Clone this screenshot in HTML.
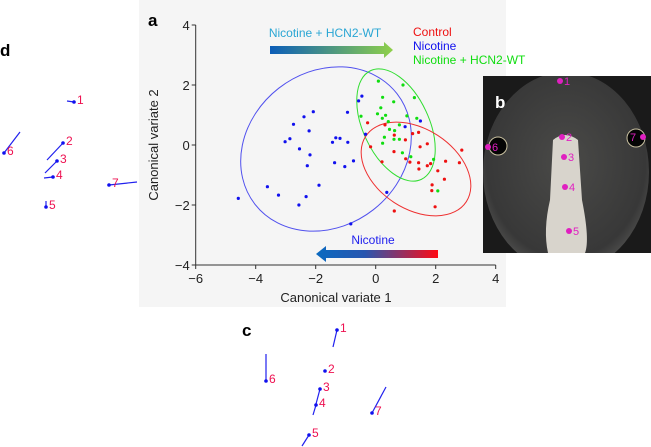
<!DOCTYPE html>
<html><head><meta charset="utf-8"><style>
html,body{margin:0;padding:0;background:#fff;}
svg{display:block;font-family:"Liberation Sans",Arial,sans-serif;}
</style></head><body>
<svg id="fig" width="651" height="447" viewBox="0 0 651 447">
<defs>
<linearGradient id="gTop" x1="0" x2="1"><stop offset="0" stop-color="#0b5db8"/><stop offset="1" stop-color="#8fd04a"/></linearGradient>
<linearGradient id="gBot" x1="0" x2="1"><stop offset="0" stop-color="#0b6ac0"/><stop offset="0.4" stop-color="#2856b0"/><stop offset="1" stop-color="#ff0a14"/></linearGradient>
<radialGradient id="head" cx="0.5" cy="0.45" r="0.6"><stop offset="0" stop-color="#4a4a48"/><stop offset="0.8" stop-color="#383838"/><stop offset="1" stop-color="#5a5a58"/></radialGradient>
<clipPath id="bclip"><rect x="483" y="76" width="168" height="177"/></clipPath>
</defs>
<rect x="139" y="0" width="367" height="307" fill="#f5f5f5"/>
<text x="148" y="26" font-size="17" font-weight="bold">a</text>
<g id="axes"></g>
<g id="ellipses">
<ellipse cx="326" cy="149" rx="90" ry="77" transform="rotate(-38 326 149)" fill="none" stroke="#5050ee" stroke-width="1"/>
<ellipse cx="396" cy="125" rx="33" ry="60" transform="rotate(-25 396 125)" fill="none" stroke="#30dd30" stroke-width="1"/>
<ellipse cx="416" cy="169" rx="60" ry="40" transform="rotate(33 416 169)" fill="none" stroke="#ee3030" stroke-width="1"/>
</g>
<g id="pts"></g>
<text x="325" y="37" font-size="12" fill="#2aa6d4" text-anchor="middle">Nicotine + HCN2-WT</text>
<path d="M270,46 H384 V42 L393,50 L384,58 V54 H270 Z" fill="url(#gTop)"/>
<text x="413" y="36" font-size="12" fill="#ee1010">Control</text>
<text x="413" y="50" font-size="12" fill="#1010ee">Nicotine</text>
<text x="413" y="64" font-size="12" fill="#10dd10">Nicotine + HCN2-WT</text>
<text x="373" y="244" font-size="12" fill="#2020ee" text-anchor="middle">Nicotine</text>
<path d="M438,250 H326 V246 L316,254 L326,262 V258 H438 Z" fill="url(#gBot)"/>
<text transform="translate(158,145) rotate(-90)" font-size="13" text-anchor="middle" fill="#222">Canonical variate 2</text>
<text x="336" y="302" font-size="13" text-anchor="middle" fill="#222">Canonical variate 1</text>

<g clip-path="url(#bclip)">
<rect x="483" y="76" width="168" height="177" fill="#1a1a1a"/>
<ellipse cx="566" cy="172" rx="83" ry="100" fill="url(#head)"/>
<path d="M553,140 Q565,130 578,140 L582,200 Q590,240 585,253 L548,253 Q543,230 550,200 Z" fill="#d8d4cc"/>
<circle cx="498" cy="146" r="9" fill="#050505" stroke="#c8c0a0"/>
<circle cx="636" cy="138" r="9" fill="#050505" stroke="#c8c0a0"/>
<text x="495" y="108" font-size="17" font-weight="bold" fill="#fff">b</text>
</g>
<g id="bpts"></g>

<text x="0" y="56" font-size="17" font-weight="bold">d</text>
<g id="dpts"></g>
<text x="242" y="336" font-size="17" font-weight="bold">c</text>
<g id="cpts"></g>
</svg>
<script>
const xTicks=[-6,-4,-2,0,2,4];
const yTicks=[-4,-2,0,2,4];
const blueX=[-4.58,-3.61,-3.24,-2.56,-2.32,-1.89,-3.02,-2.86,-2.74,-2.39,-2.08,-2.22,-2.54,-2.19,-2.28,-1.44,-1.33,-1.19,-0.94,-0.93,-1.37,-1.03,-0.74,-0.57,-0.46,-0.34,0.98,1.49,0.37,-0.83];
const blueY=[-1.78,-1.39,-1.67,-2.0,-1.72,-1.34,0.11,0.21,0.69,0.94,1.11,0.47,-0.13,-0.33,-0.69,0.09,0.24,0.22,1.09,0.09,-0.59,-0.72,-0.53,1.47,1.63,0.36,0.61,0.8,-1.58,-2.63];
const greenX=[0.09,0.91,1.29,0.23,0.6,-0.49,0.17,0.06,0.22,0.33,0.42,0.46,0.79,1.04,1.37,0.29,0.63,0.61,0.79,0.23,0.89,1.17,1.93,2.07];
const greenY=[2.13,2.0,1.58,1.59,1.44,0.96,1.24,1.04,0.89,0.99,0.78,0.52,0.67,0.97,0.89,0.26,0.48,0.19,0.19,0.06,-0.26,-0.39,-0.48,-1.53];
const redX=[-0.27,0.31,0.62,0.99,1.23,1.43,1.72,1.48,-0.17,0.21,0.61,1.0,1.14,1.43,1.44,1.72,1.83,2.07,2.33,2.79,2.87,2.29,1.88,1.87,1.98,0.62];
const redY=[0.74,0.67,0.33,0.17,0.38,0.42,0.04,-0.06,-0.06,-0.56,-0.22,-0.46,-0.57,-0.59,-0.8,-0.69,-0.62,-0.86,-0.54,-0.59,-0.17,-1.14,-1.33,-1.52,-2.06,-2.2];
const NS='http://www.w3.org/2000/svg';
const sx=v=>375.7+v*30;
const sy=v=>145-v*30;
function mk(tag,attrs,parent,txt){const e=document.createElementNS(NS,tag);for(const k in attrs)e.setAttribute(k,attrs[k]);if(txt!==undefined)e.textContent=txt;parent.appendChild(e);return e;}
const ax=document.getElementById('axes');
let e=mk('line',{x1:sx(-6),x2:sx(4),y1:sy(-4),y2:sy(-4),stroke:'#333'},ax);


e=mk('line',{x1:sx(-6),x2:sx(-6),y1:sy(-4),y2:sy(4),stroke:'#333'},ax);


xTicks.forEach(t=>{mk('line',{x1:sx(t),x2:sx(t),y1:sy(-4),y2:sy(-4)+4,stroke:'#333'},ax);
const l=mk('text',{x:sx(t),y:sy(-4)+18,'font-size':13,'text-anchor':'middle',fill:'#222'},ax,t<0?'\u2212'+(-t):String(t));

});
yTicks.forEach(t=>{mk('line',{x1:sx(-6)-4,x2:sx(-6),y1:sy(t),y2:sy(t),stroke:'#333'},ax);
const l=mk('text',{x:sx(-6)-6,y:sy(t)+5,'font-size':13,'text-anchor':'end',fill:'#222'},ax,t<0?'\u2212'+(-t):String(t));

});
const pg=document.getElementById('pts');
function series(X,Y,col,name){X.forEach((x,i)=>{const c=mk('circle',{cx:sx(x),cy:sy(Y[i]),r:1.6,fill:col},pg);

});}
series(blueX,blueY,'#1010ee','nicotine-point');
series(greenX,greenY,'#10dd10','hcn2-point');
series(redX,redY,'#ee1010','control-point');
const bLab=['1','2','3','4','5','6','7'];
const bX=[560,562,564,565,569,488,643];
const bY=[81,137,157,187,231,147,137];
const bg=document.getElementById('bpts');
bX.forEach((x,i)=>{const c=mk('circle',{cx:x,cy:bY[i],r:3,fill:'#e020c0'},bg);


const dx=(i===6)?-13:4;
mk('text',{x:x+dx,y:bY[i]+4,'font-size':11,fill:'#e020c0'},bg,bLab[i]);});
function vecs(gid,X,Y,EX,EY,pref){const g=document.getElementById(gid);X.forEach((x,i)=>{
const ln=mk('line',{x1:x,y1:Y[i],x2:EX[i],y2:EY[i],stroke:'#2020ee','stroke-width':1.2},g);


mk('circle',{cx:x,cy:Y[i],r:1.8,fill:'#1010ee'},g);
mk('text',{x:x+3,y:Y[i]+2,'font-size':12,fill:'#ee1050'},g,String(i+1));});}
vecs('dpts',[74,63,57,53,46,4,109],[102,143,161,177,207,153,185],[67,47,45,44,46,20,137],[101,160,173,178,201,132,182],'d');
vecs('cpts',[337,325,320,316,309,266,372],[330,371,389,405,435,381,413],[333,325,316,313,302,266,386],[347,371,404,415,446,354,387],'c');
</script>
</body></html>
